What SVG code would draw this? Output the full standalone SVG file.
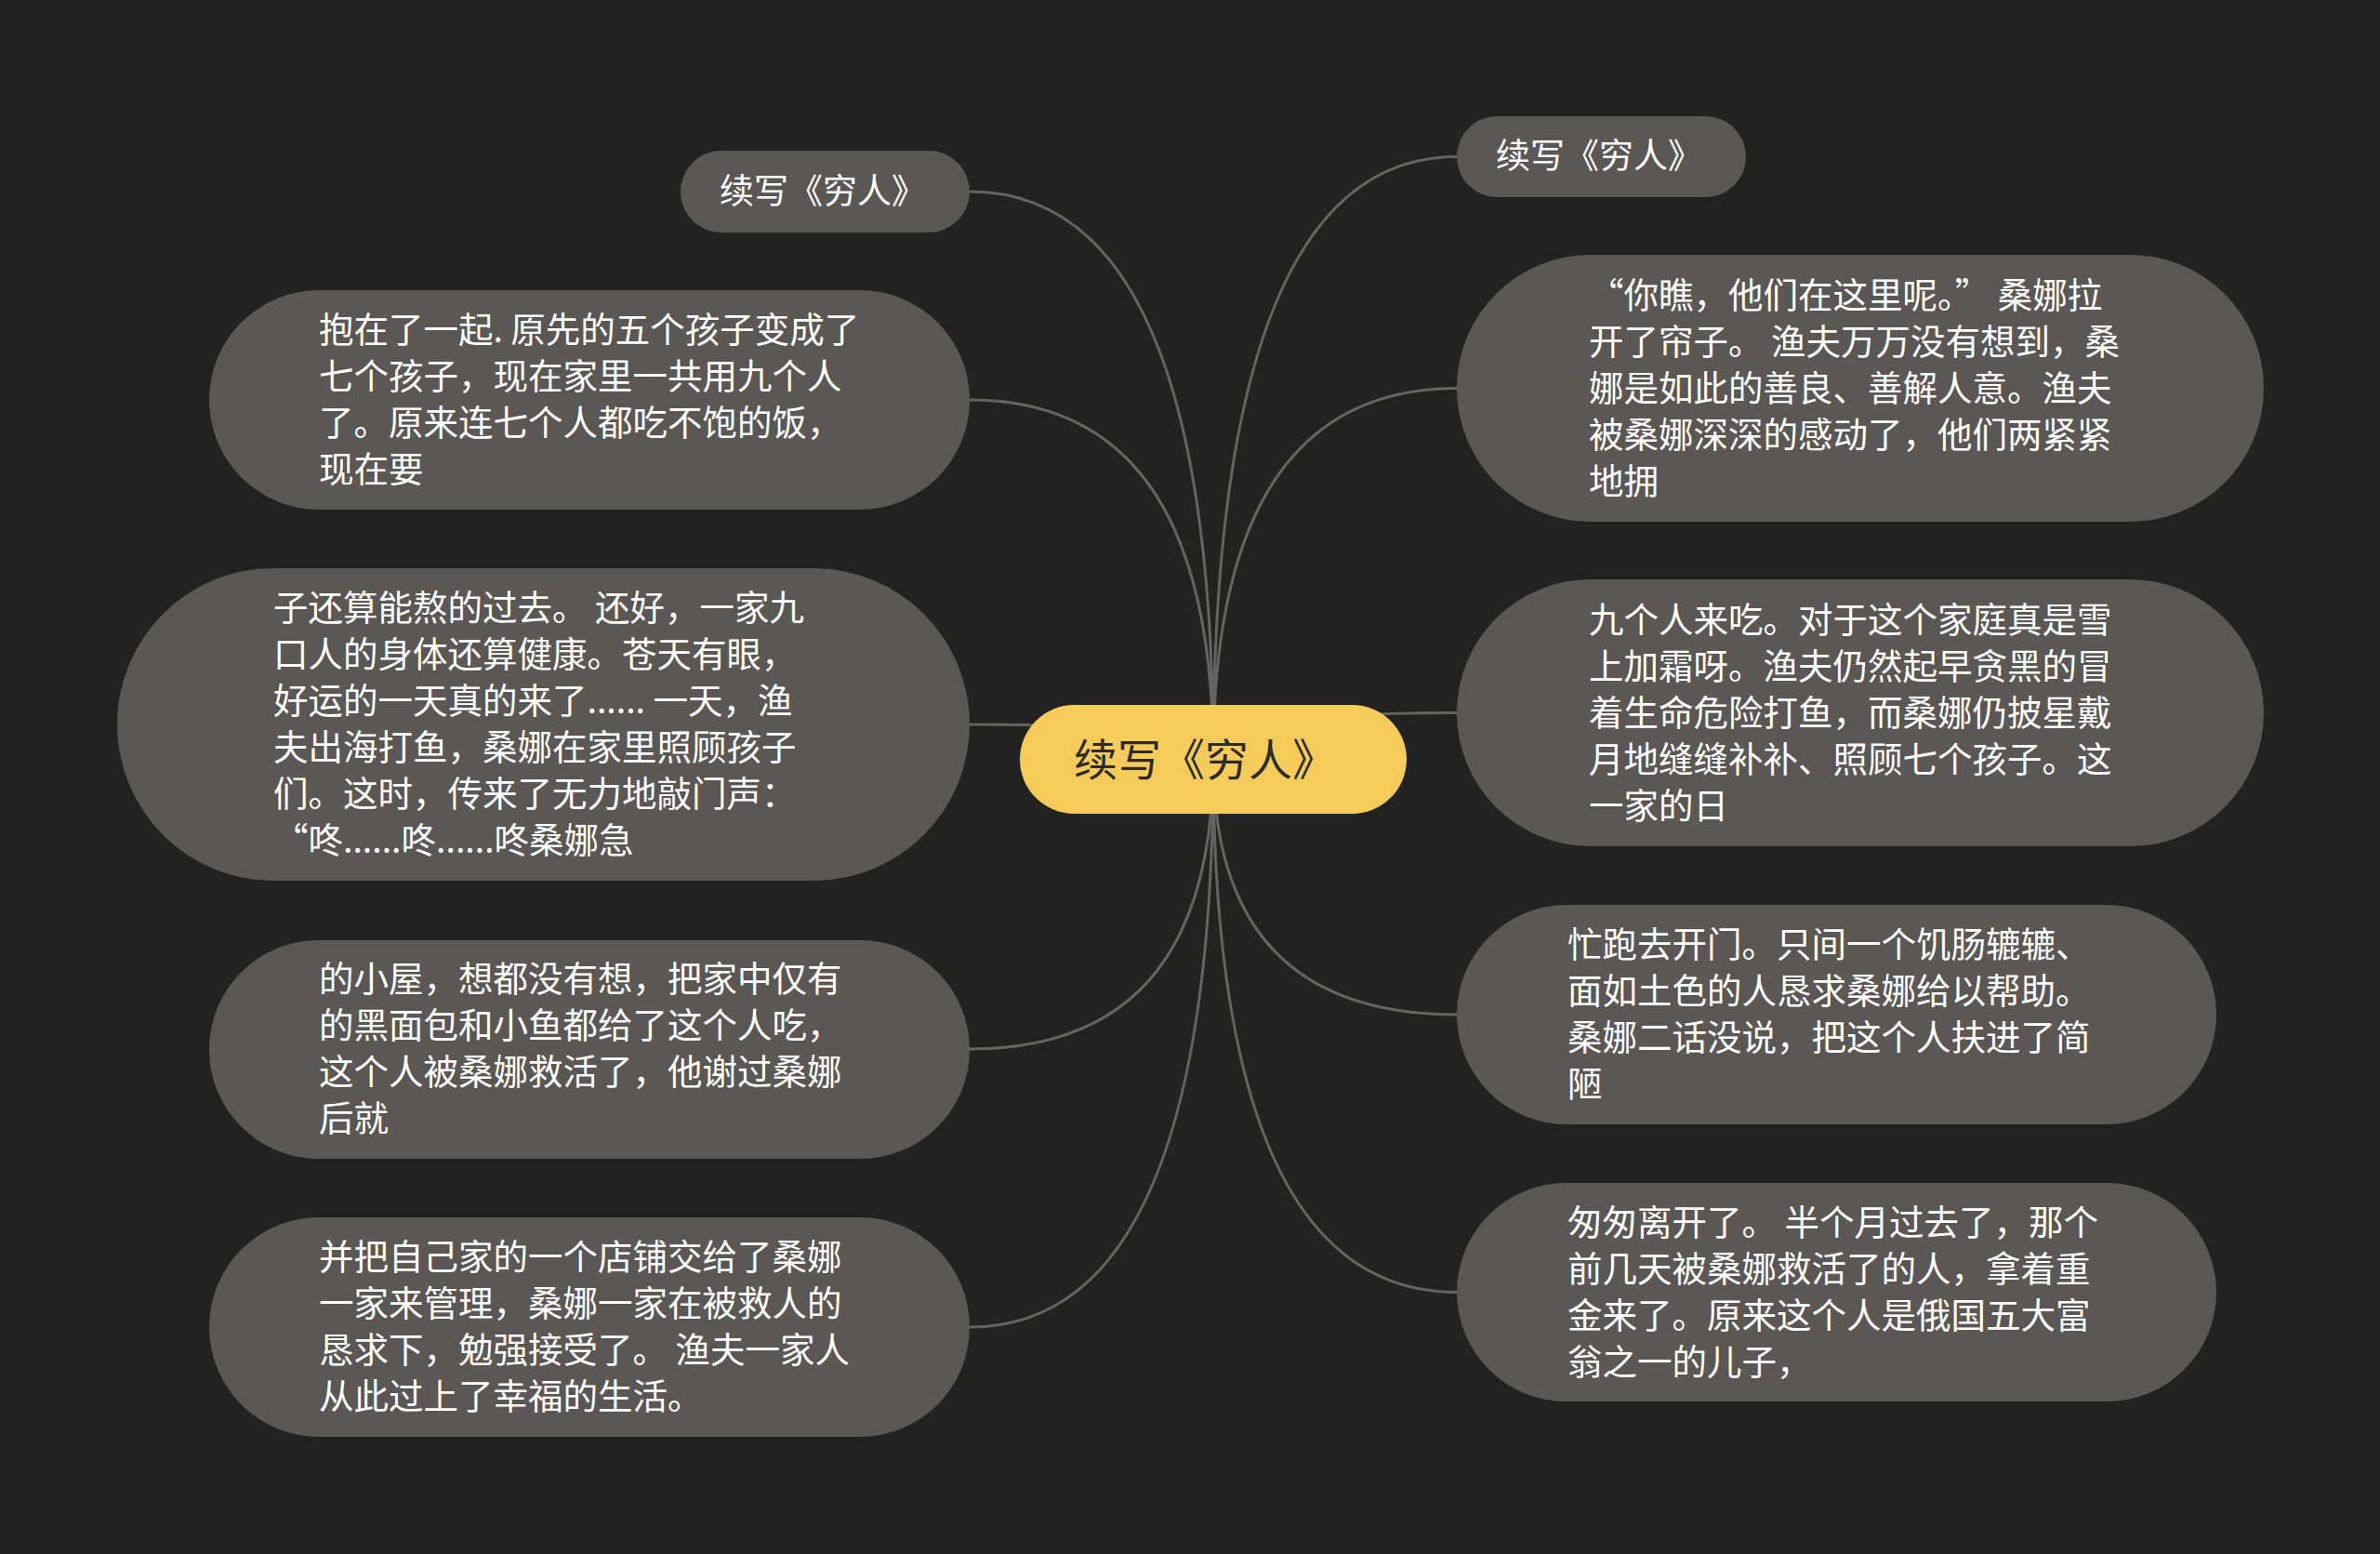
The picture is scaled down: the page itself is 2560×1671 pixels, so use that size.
<svg xmlns="http://www.w3.org/2000/svg" width="2560" height="1671" viewBox="0 0 2560 1671">
<style>
.bg{fill:#222220}
.n{fill:#5a5754}
.c{fill:#f5cb5c}
.t{font-family:"Noto Sans CJK SC","Noto Sans",sans-serif;fill:#ffffff;font-size:37.5px}
.tt{font-family:"Noto Sans CJK SC","Noto Sans",sans-serif;fill:#ffffff;font-size:37px}
.ct{font-family:"Noto Sans CJK SC","Noto Sans",sans-serif;fill:#2e2b26;font-size:47px}
.e{fill:none;stroke:#666461;stroke-width:3}
</style>
<rect class="bg" x="0" y="0" width="2560" height="1671"/>
<g id="connectors">
<path class="e" d="M1305 816 Q1305 206 1043 206"/>
<path class="e" d="M1305 816 Q1305 430 1043 430"/>
<path class="e" d="M1305 816 Q1305 779 1043 779"/>
<path class="e" d="M1305 816 Q1305 1128 1043 1128"/>
<path class="e" d="M1305 816 Q1305 1427 1043 1427"/>
<path class="e" d="M1305 816 Q1305 168.5 1567 168.5"/>
<path class="e" d="M1305 816 Q1305 417.5 1567 417.5"/>
<path class="e" d="M1305 816 Q1305 766.5 1567 766.5"/>
<path class="e" d="M1305 816 Q1305 1091 1567 1091"/>
<path class="e" d="M1305 816 Q1305 1389.5 1567 1389.5"/>
</g>
<g id="center">
<rect class="c" x="1097" y="758" width="416" height="117" rx="58.5"/>
<text class="ct" x="1155" y="834">续写《穷人》</text>
</g>
<g id="L0">
<rect class="n" x="732" y="162" width="311" height="88" rx="44"/>
<text class="tt" x="774" y="219">续写《穷人》</text>
</g>
<g id="L1">
<rect class="n" x="225" y="312" width="818" height="236" rx="118"/>
<text class="t"><tspan x="343" y="368">抱在了一起. 原先的五个孩子变成了</tspan><tspan x="343" y="418">七个孩子，现在家里一共用九个人</tspan><tspan x="343" y="468">了。原来连七个人都吃不饱的饭，</tspan><tspan x="343" y="518">现在要</tspan></text>
</g>
<g id="L2">
<rect class="n" x="126" y="611" width="917" height="336" rx="168"/>
<text class="t"><tspan x="294" y="667">子还算能熬的过去。 还好，一家九</tspan><tspan x="294" y="717">口人的身体还算健康。苍天有眼，</tspan><tspan x="294" y="767">好运的一天真的来了...... 一天，渔</tspan><tspan x="294" y="817">夫出海打鱼，桑娜在家里照顾孩子</tspan><tspan x="294" y="867">们。这时，传来了无力地敲门声：</tspan><tspan x="294" y="917">“咚......咚......咚桑娜急</tspan></text>
</g>
<g id="L3">
<rect class="n" x="225" y="1011" width="818" height="235" rx="117.5"/>
<text class="t"><tspan x="343" y="1066">的小屋，想都没有想，把家中仅有</tspan><tspan x="343" y="1116">的黑面包和小鱼都给了这个人吃，</tspan><tspan x="343" y="1166">这个人被桑娜救活了，他谢过桑娜</tspan><tspan x="343" y="1216">后就</tspan></text>
</g>
<g id="L4">
<rect class="n" x="225" y="1309" width="818" height="236" rx="118"/>
<text class="t"><tspan x="343" y="1365">并把自己家的一个店铺交给了桑娜</tspan><tspan x="343" y="1415">一家来管理，桑娜一家在被救人的</tspan><tspan x="343" y="1465">恳求下，勉强接受了。 渔夫一家人</tspan><tspan x="343" y="1515">从此过上了幸福的生活。</tspan></text>
</g>
<g id="R0">
<rect class="n" x="1567" y="125" width="311" height="87" rx="43.5"/>
<text class="tt" x="1609" y="181">续写《穷人》</text>
</g>
<g id="R1">
<rect class="n" x="1567" y="274" width="868" height="287" rx="143.5"/>
<text class="t"><tspan x="1709" y="331">“你瞧，他们在这里呢。” 桑娜拉</tspan><tspan x="1709" y="381">开了帘子。 渔夫万万没有想到，桑</tspan><tspan x="1709" y="431">娜是如此的善良、善解人意。渔夫</tspan><tspan x="1709" y="481">被桑娜深深的感动了，他们两紧紧</tspan><tspan x="1709" y="531">地拥</tspan></text>
</g>
<g id="R2">
<rect class="n" x="1567" y="623" width="868" height="287" rx="143.5"/>
<text class="t"><tspan x="1709" y="680">九个人来吃。对于这个家庭真是雪</tspan><tspan x="1709" y="730">上加霜呀。渔夫仍然起早贪黑的冒</tspan><tspan x="1709" y="780">着生命危险打鱼，而桑娜仍披星戴</tspan><tspan x="1709" y="830">月地缝缝补补、照顾七个孩子。这</tspan><tspan x="1709" y="880">一家的日</tspan></text>
</g>
<g id="R3">
<rect class="n" x="1567" y="973" width="817" height="236" rx="118"/>
<text class="t"><tspan x="1686" y="1029">忙跑去开门。只间一个饥肠辘辘、</tspan><tspan x="1686" y="1079">面如土色的人恳求桑娜给以帮助。</tspan><tspan x="1686" y="1129">桑娜二话没说，把这个人扶进了简</tspan><tspan x="1686" y="1179">陋</tspan></text>
</g>
<g id="R4">
<rect class="n" x="1567" y="1272" width="817" height="235" rx="117.5"/>
<text class="t"><tspan x="1686" y="1328">匆匆离开了。 半个月过去了，那个</tspan><tspan x="1686" y="1378">前几天被桑娜救活了的人，拿着重</tspan><tspan x="1686" y="1428">金来了。原来这个人是俄国五大富</tspan><tspan x="1686" y="1478">翁之一的儿子，</tspan></text>
</g>
</svg>
